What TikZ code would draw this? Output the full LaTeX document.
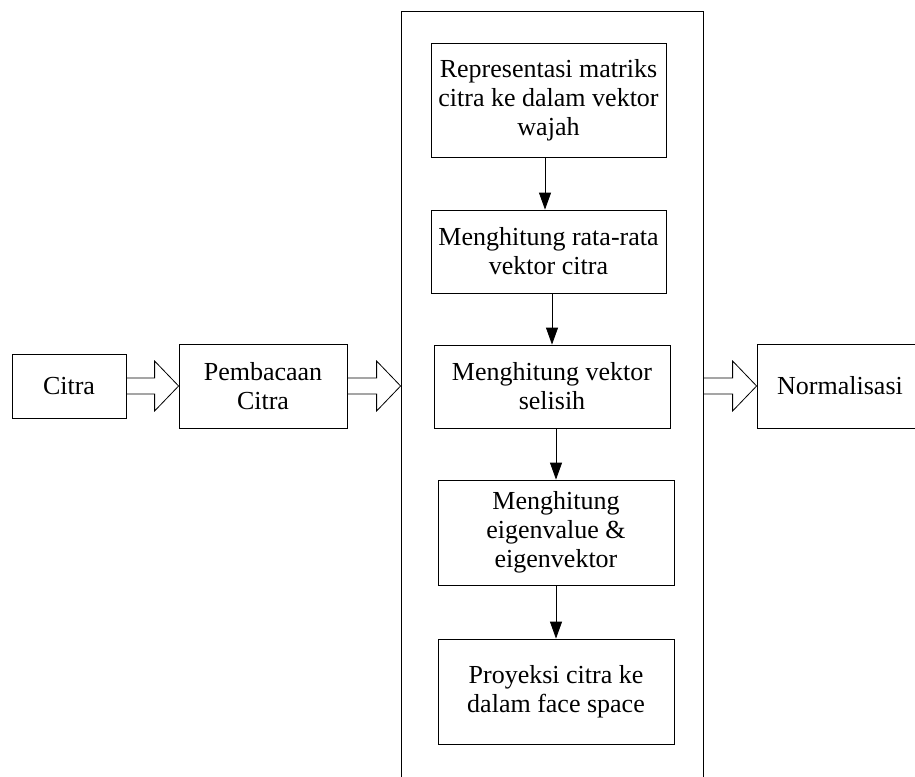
\documentclass[tikz,border=0pt]{standalone}
\usepackage{fontspec}
\setmainfont{Liberation Serif}
\usetikzlibrary{arrows.meta}
\begin{document}
\begin{tikzpicture}[x=1pt,y=-1pt,
  box/.style={draw, line width=0.8pt, inner sep=0pt, align=center,
    font=\fontsize{26}{29}\selectfont},
  flow/.style={line width=0.8pt, -{Triangle[length=17pt,width=12pt]}},
  hollow/.style={draw, line width=0.8pt, line join=miter}]
\useasboundingbox (0,0) rectangle (915,776);

% outer container (bottom runs past the picture edge)
\node[draw, line width=0.8pt, minimum width=302pt, minimum height=800pt, inner sep=0pt] (cont) at (552,411) {};

% left and right boxes
\node[box, minimum width=114pt, minimum height=64pt] (citra) at (69,386) {Citra};
\node[box, minimum width=168pt, minimum height=84pt] (baca) at (263,386) {Pembacaan\\Citra};
\node[box, minimum width=166pt, minimum height=84pt] (norm) at (840,386) {Normalisasi};

% inner boxes
\node[box, minimum width=235pt, minimum height=114pt] (b1) at (548.5,100) {Representasi matriks\\citra ke dalam vektor\\wajah};
\node[box, minimum width=235pt, minimum height=83pt] (b2) at (548.5,251.5) {Menghitung rata-rata\\vektor citra};
\node[box, minimum width=236pt, minimum height=83pt] (b3) at (552,386.5) {Menghitung vektor\\selisih};
\node[box, minimum width=236pt, minimum height=105pt] (b4) at (556,532.5) {Menghitung\\eigenvalue \&\\eigenvektor};
\node[box, minimum width=236pt, minimum height=105pt] (b5) at (556,691.5) {Proyeksi citra ke\\dalam face space};

% flow arrows
\draw[flow] ([xshift=-3.5pt]b1.south) -- ([xshift=-3.5pt]b2.north);
\draw[flow] ([xshift=3.5pt]b2.south) -- (b3.north);
\draw[flow] (b3.south -| b4.north) -- (b4.north);
\draw[flow] (b4.south) -- (b5.north);

% hollow block arrows
\coordinate (s1) at (citra.east);
\coordinate (t1) at (baca.west);
\coordinate (s2) at (baca.east);
\coordinate (t2) at (cont.west |- baca.east);
\coordinate (s3) at (cont.east |- norm.west);
\coordinate (t3) at (norm.west);
\foreach \s/\t in {s1/t1, s2/t2, s3/t3}{
  \draw[hollow] ([yshift=8pt]\s) -- ([xshift=-24pt,yshift=8pt]\t)
    -- ([xshift=-24pt,yshift=25pt]\t) -- (\t)
    -- ([xshift=-24pt,yshift=-25pt]\t) -- ([xshift=-24pt,yshift=-8pt]\t)
    -- ([yshift=-8pt]\s);
}
\end{tikzpicture}
\end{document}
